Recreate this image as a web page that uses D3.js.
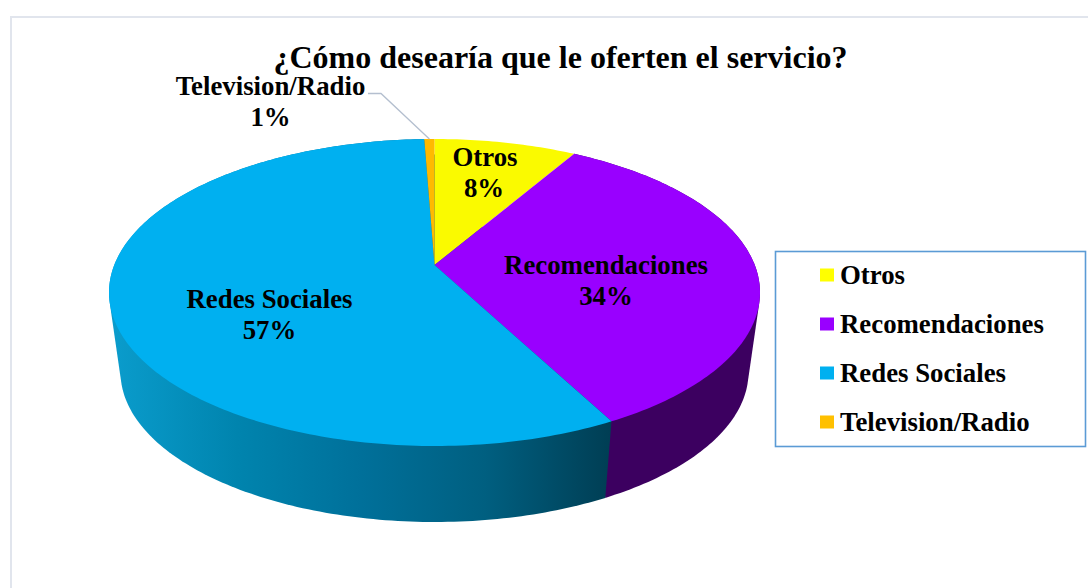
<!DOCTYPE html>
<meta charset="utf-8">
<head>
  <style>
    body { margin: 0; background: #fff; }
    text { font-family: "Liberation Serif", serif; font-weight: bold; fill: #000; }
  </style>
</head>
<body>
  <svg id="chart" width="1088" height="588"></svg>
  <script src="https://d3js.org/d3.v7.min.js"></script>
  <script>
    var categories = ["Otros", "Recomendaciones", "Redes Sociales", "Television/Radio"];
    var values = [8.4, 33.9, 57.1, 0.6];
    var colors = ["#FAFA00", "#9900FF", "#00B0F0", "#FFB900"];
    var legendColors = ["#FFFF00", "#9900FF", "#00B0F0", "#FFC000"];
    var sideColors = [null, "#3C0060", "url(#sideBlue)", null];
    var title = "¿Cómo desearía que le oferten el servicio?";

    var svg = d3.select("#chart");

    // marco de la imagen
    svg.append("path")
      .attr("d", "M11,588V17H1088")
      .attr("fill", "none")
      .attr("stroke", "#E1E5ED")
      .attr("stroke-width", 2);

    // degradado del lateral azul
    var grad = svg.append("defs").append("linearGradient")
      .attr("id", "sideBlue")
      .attr("gradientUnits", "userSpaceOnUse")
      .attr("x1", 113).attr("x2", 610).attr("y1", 0).attr("y2", 0);
    [[0, "#0A9CCC"], [0.25, "#0084AE"], [0.5, "#00709A"], [0.75, "#005F80"], [1, "#003E54"]]
      .forEach(function (s) {
        grad.append("stop").attr("offset", s[0]).attr("stop-color", s[1]);
      });

    var pie = d3.pie().sort(null).value(function (d) { return d; });
    var arcs = pie(values);

    // disco en perspectiva: el centro de la tarta queda por encima del centro de la elipse
    var tilt = 0.179;
    function project(angle) {
      var u = Math.sin(angle), v = Math.cos(angle);
      var w = 1 + tilt * v;
      return [u * Math.sqrt(1 - tilt * tilt) / w, (v + tilt) / w];
    }

    var topX = d3.scaleLinear().domain([-1, 1]).range([109, 760]);
    var topY = d3.scaleLinear().domain([-1, 1]).range([446, 139]);
    var baseX = d3.scaleLinear().domain([-1, 1]).range([120.5, 748.5]);
    var baseY = d3.scaleLinear().domain([-1, 1]).range([522, 222]);

    function angles(d) {
      var n = Math.ceil((d.endAngle - d.startAngle) * 60);
      return d3.range(n + 1).map(function (i) {
        return d.startAngle + (d.endAngle - d.startAngle) * i / n;
      });
    }
    var line = d3.line();

    // laterales: envolvente de las dos elipses, la cara superior tapa lo demás
    arcs.forEach(function (d, i) {
      if (!sideColors[i]) return;
      var a = angles(d);
      var upper = a.map(function (t) { var p = project(t); return [topX(p[0]), topY(p[1])]; });
      var lower = a.map(function (t) { var p = project(t); return [baseX(p[0]), baseY(p[1])]; });
      svg.append("path")
        .attr("d", line(d3.polygonHull(upper.concat(lower))) + "Z")
        .attr("fill", sideColors[i]);
    });

    // cara superior
    arcs.forEach(function (d, i) {
      var pts = [[topX(0), topY(tilt)]].concat(angles(d).map(function (t) {
        var p = project(t); return [topX(p[0]), topY(p[1])];
      }));
      svg.append("path")
        .attr("d", line(pts) + "Z")
        .attr("fill", colors[i]);
    });

    // título
    svg.append("text")
      .attr("x", 560.5).attr("y", 68)
      .attr("text-anchor", "middle")
      .attr("font-size", 32)
      .text(title);

    // etiquetas
    var labelPos = [[485, 166], [606, 274], [269.5, 308], [270.5, 95]];
    categories.forEach(function (c, i) {
      var g = svg.append("text").attr("text-anchor", "middle").attr("font-size", 26.8);
      g.append("tspan").attr("x", labelPos[i][0]).attr("y", labelPos[i][1]).text(c);
      g.append("tspan").attr("x", labelPos[i][0] - (i == 0 ? 1 : 0)).attr("y", labelPos[i][1] + 31).text(Math.round(values[i]) + "%");
    });

    // línea guía de Television/Radio
    var tvTip = project((arcs[3].startAngle + arcs[3].endAngle) / 2);
    svg.append("path")
      .attr("d", line([[368, 93.5], [381, 93.5], [topX(tvTip[0]), topY(tvTip[1])]]))
      .attr("fill", "none")
      .attr("stroke", "#B4BFCF")
      .attr("stroke-width", 1.3);

    // leyenda
    svg.append("rect")
      .attr("x", 775.5).attr("y", 251.5)
      .attr("width", 310).attr("height", 195)
      .attr("fill", "#fff")
      .attr("stroke", "#5B9BD5")
      .attr("stroke-width", 1.6);

    var legendY = d3.scalePoint().domain(categories).range([275, 422]);
    var legend = svg.selectAll(".legend")
      .data(categories)
      .enter().append("g")
      .attr("class", "legend")
      .attr("transform", function (d) { return "translate(820," + legendY(d) + ")"; });
    legend.append("rect")
      .attr("y", -6.5)
      .attr("width", 14).attr("height", 13)
      .attr("fill", function (d, i) { return legendColors[i]; });
    legend.append("text")
      .attr("x", 20).attr("y", 9)
      .attr("font-size", 26.8)
      .text(function (d) { return d; });
  </script>
</body>
